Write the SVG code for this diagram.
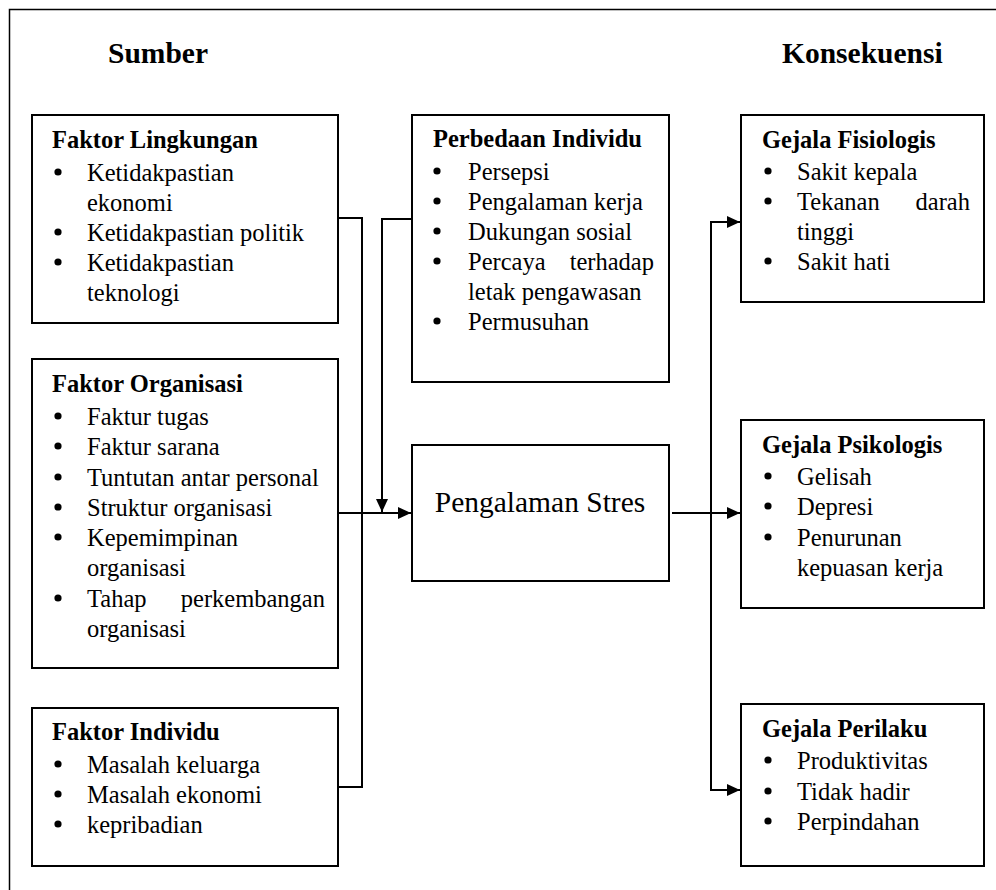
<svg xmlns="http://www.w3.org/2000/svg" width="996" height="890" viewBox="0 0 996 890">
<style>
text{font-family:'Liberation Serif',serif !important}
.t{font-size:24.5px}
.h{font-size:24.5px;font-weight:bold}
.big{font-size:29.5px;font-weight:bold}
.ps{font-size:29.5px}
.box{fill:#fff;stroke:#000;stroke-width:2}
.ln{fill:none;stroke:#000;stroke-width:2}
.b{fill:#000}
</style>
<defs>
<marker id="arr" markerUnits="userSpaceOnUse" markerWidth="14" markerHeight="13" refX="13" refY="6.5" orient="auto">
<path d="M0,0.5 L13,6.5 L0,12.5 z" fill="#000"/>
</marker>
</defs>
<rect x="0" y="0" width="996" height="890" fill="#fff"/>
<rect x="9.5" y="9.5" width="1000" height="900" fill="none" stroke="#000" stroke-width="1.5"/>
<g font-family="Liberation Serif" fill="#000">
<text class="big" style="font-family:'Liberation Serif',serif" x="108" y="63">Sumber</text>
<text class="big" style="font-family:'Liberation Serif',serif" x="782" y="63">Konsekuensi</text>

<g id="connectors">
<path class="ln" d="M339,218 H362 V787 H339"/>
<path class="ln" d="M339,513 H411" marker-end="url(#arr)"/>
<path class="ln" d="M412,219 H382 V512" marker-end="url(#arr)"/>
<path class="ln" d="M672,513 H740" marker-end="url(#arr)"/>
<path class="ln" d="M711,513 V222 H740" marker-end="url(#arr)"/>
<path class="ln" d="M711,513 V790 H740" marker-end="url(#arr)"/>
</g>

<g id="faktor-lingkungan">
<rect class="box" x="32" y="115" width="306" height="208"/>
<text class="h" style="font-family:'Liberation Serif',serif" x="52" y="148">Faktor Lingkungan</text>
<circle class="b" cx="58" cy="172" r="3.6"/>
<text class="t" style="font-family:'Liberation Serif',serif" x="87" y="181">Ketidakpastian</text>
<text class="t" style="font-family:'Liberation Serif',serif" x="87" y="211">ekonomi</text>
<circle class="b" cx="58" cy="232" r="3.6"/>
<text class="t" style="font-family:'Liberation Serif',serif" x="87" y="241">Ketidakpastian politik</text>
<circle class="b" cx="58" cy="262" r="3.6"/>
<text class="t" style="font-family:'Liberation Serif',serif" x="87" y="271">Ketidakpastian</text>
<text class="t" style="font-family:'Liberation Serif',serif" x="87" y="301">teknologi</text>
</g>

<g id="faktor-organisasi">
<rect class="box" x="32" y="359" width="306" height="309"/>
<text class="h" style="font-family:'Liberation Serif',serif" x="52" y="392">Faktor Organisasi</text>
<circle class="b" cx="58" cy="416" r="3.6"/>
<text class="t" style="font-family:'Liberation Serif',serif" x="87" y="425">Faktur tugas</text>
<circle class="b" cx="58" cy="446" r="3.6"/>
<text class="t" style="font-family:'Liberation Serif',serif" x="87" y="455">Faktur sarana</text>
<circle class="b" cx="58" cy="477" r="3.6"/>
<text class="t" style="font-family:'Liberation Serif',serif" x="87" y="486">Tuntutan antar personal</text>
<circle class="b" cx="58" cy="507" r="3.6"/>
<text class="t" style="font-family:'Liberation Serif',serif" x="87" y="516">Struktur organisasi</text>
<circle class="b" cx="58" cy="537" r="3.6"/>
<text class="t" style="font-family:'Liberation Serif',serif" x="87" y="546">Kepemimpinan</text>
<text class="t" style="font-family:'Liberation Serif',serif" x="87" y="576">organisasi</text>
<circle class="b" cx="58" cy="598" r="3.6"/>
<text class="t" style="font-family:'Liberation Serif',serif" x="87" y="607">Tahap</text>
<text class="t" style="font-family:'Liberation Serif',serif" x="325" y="607" text-anchor="end">perkembangan</text>
<text class="t" style="font-family:'Liberation Serif',serif" x="87" y="637">organisasi</text>
</g>

<g id="faktor-individu">
<rect class="box" x="32" y="708" width="306" height="158"/>
<text class="h" style="font-family:'Liberation Serif',serif" x="52" y="740">Faktor Individu</text>
<circle class="b" cx="58" cy="764" r="3.6"/>
<text class="t" style="font-family:'Liberation Serif',serif" x="87" y="773">Masalah keluarga</text>
<circle class="b" cx="58" cy="794" r="3.6"/>
<text class="t" style="font-family:'Liberation Serif',serif" x="87" y="803">Masalah ekonomi</text>
<circle class="b" cx="58" cy="824" r="3.6"/>
<text class="t" style="font-family:'Liberation Serif',serif" x="87" y="833">kepribadian</text>
</g>

<g id="perbedaan-individu">
<rect class="box" x="412" y="115" width="257" height="267"/>
<text class="h" style="font-family:'Liberation Serif',serif" x="433" y="147">Perbedaan Individu</text>
<circle class="b" cx="437" cy="171" r="3.6"/>
<text class="t" style="font-family:'Liberation Serif',serif" x="468" y="180">Persepsi</text>
<circle class="b" cx="437" cy="201" r="3.6"/>
<text class="t" style="font-family:'Liberation Serif',serif" x="468" y="210">Pengalaman kerja</text>
<circle class="b" cx="437" cy="231" r="3.6"/>
<text class="t" style="font-family:'Liberation Serif',serif" x="468" y="240">Dukungan sosial</text>
<circle class="b" cx="437" cy="261" r="3.6"/>
<text class="t" style="font-family:'Liberation Serif',serif" x="468" y="270">Percaya</text>
<text class="t" style="font-family:'Liberation Serif',serif" x="654" y="270" text-anchor="end">terhadap</text>
<text class="t" style="font-family:'Liberation Serif',serif" x="468" y="300">letak pengawasan</text>
<circle class="b" cx="437" cy="321" r="3.6"/>
<text class="t" style="font-family:'Liberation Serif',serif" x="468" y="330">Permusuhan</text>
</g>

<g id="pengalaman-stres">
<rect class="box" x="412" y="445" width="257" height="136"/>
<text class="ps" style="font-family:'Liberation Serif',serif" x="540" y="512" text-anchor="middle">Pengalaman Stres</text>
</g>

<g id="gejala-fisiologis">
<rect class="box" x="741" y="115" width="243" height="187"/>
<text class="h" style="font-family:'Liberation Serif',serif" x="762" y="148">Gejala Fisiologis</text>
<circle class="b" cx="768" cy="171" r="3.6"/>
<text class="t" style="font-family:'Liberation Serif',serif" x="797" y="180">Sakit kepala</text>
<circle class="b" cx="768" cy="201" r="3.6"/>
<text class="t" style="font-family:'Liberation Serif',serif" x="797" y="210">Tekanan</text>
<text class="t" style="font-family:'Liberation Serif',serif" x="970" y="210" text-anchor="end">darah</text>
<text class="t" style="font-family:'Liberation Serif',serif" x="797" y="240">tinggi</text>
<circle class="b" cx="768" cy="261" r="3.6"/>
<text class="t" style="font-family:'Liberation Serif',serif" x="797" y="270">Sakit hati</text>
</g>

<g id="gejala-psikologis">
<rect class="box" x="741" y="420" width="243" height="188"/>
<text class="h" style="font-family:'Liberation Serif',serif" x="762" y="453">Gejala Psikologis</text>
<circle class="b" cx="768" cy="476" r="3.6"/>
<text class="t" style="font-family:'Liberation Serif',serif" x="797" y="485">Gelisah</text>
<circle class="b" cx="768" cy="506" r="3.6"/>
<text class="t" style="font-family:'Liberation Serif',serif" x="797" y="515">Depresi</text>
<circle class="b" cx="768" cy="537" r="3.6"/>
<text class="t" style="font-family:'Liberation Serif',serif" x="797" y="546">Penurunan</text>
<text class="t" style="font-family:'Liberation Serif',serif" x="797" y="576">kepuasan kerja</text>
</g>

<g id="gejala-perilaku">
<rect class="box" x="741" y="704" width="243" height="162"/>
<text class="h" style="font-family:'Liberation Serif',serif" x="762" y="737">Gejala Perilaku</text>
<circle class="b" cx="768" cy="760" r="3.6"/>
<text class="t" style="font-family:'Liberation Serif',serif" x="797" y="769">Produktivitas</text>
<circle class="b" cx="768" cy="791" r="3.6"/>
<text class="t" style="font-family:'Liberation Serif',serif" x="797" y="800">Tidak hadir</text>
<circle class="b" cx="768" cy="821" r="3.6"/>
<text class="t" style="font-family:'Liberation Serif',serif" x="797" y="830">Perpindahan</text>
</g>
</g>
</svg>
